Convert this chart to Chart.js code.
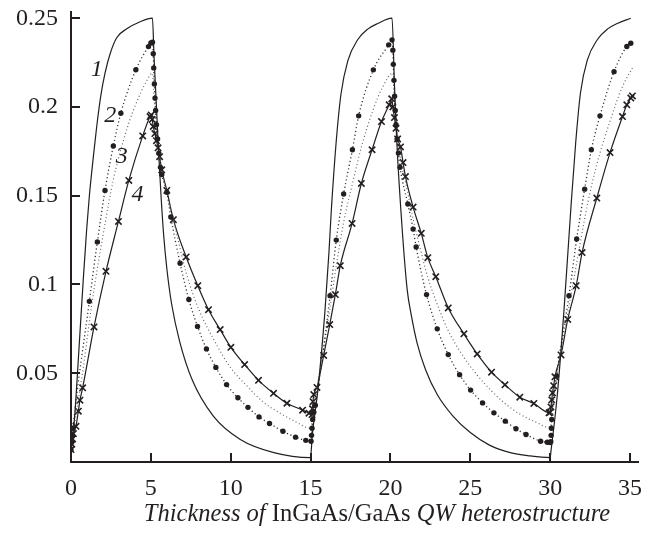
<!DOCTYPE html>
<html><head><meta charset="utf-8">
<style>html,body{margin:0;padding:0;background:#fff}#wrap{width:651px;height:533px;position:relative}</style>
<script src="https://cdn.jsdelivr.net/npm/chart.js@4.4.1/dist/chart.umd.min.js"></script>
</head><body><div id="wrap"><canvas id="c" width="651" height="533"></canvas></div>
<script>
const xTicks = [0,5,10,15,20,25,30,35];
const yTicks = [0.05,0.1,0.15,0.2,0.25];

// Curve 1 (solid)
const c1x = [0,0.1,0.25,0.46,0.77,0.98,1.15,1.4,1.61,1.86,2.13,2.45,2.86,3.49,4.33,5.1,5.2,5.35,5.5,5.65,5.8,6.0,6.3,6.8,7.6,8.9,10.6,12.7,15.0,15.1,15.45,15.9,16.15,16.3,16.6,16.9,17.33,17.96,18.6,19.2,20.1,20.25,20.4,20.73,21.05,21.3,21.67,22.2,22.93,23.9,25.0,26.2,27.5,28.7,30.0,30.05,30.45,30.87,31.29,31.6,31.9,32.33,32.96,33.6,34.2,35.05];
const c1y = [0.007,0.013,0.028,0.058,0.103,0.131,0.15,0.172,0.189,0.206,0.219,0.23,0.239,0.244,0.248,0.25,0.228,0.2,0.172,0.148,0.128,0.109,0.089,0.068,0.046,0.026,0.0127,0.0053,0.0025,0.0145,0.04,0.085,0.118,0.142,0.18,0.207,0.226,0.238,0.244,0.247,0.25,0.213,0.18,0.132,0.097,0.083,0.067,0.052,0.038,0.026,0.0166,0.0095,0.0053,0.0035,0.0025,0.006,0.038,0.086,0.142,0.18,0.208,0.2265,0.238,0.244,0.247,0.25];

// Curve 2 (dotted, dot markers)
const c2x = [0,0.04,0.08,0.12,1.15,1.65,2.13,2.65,3.12,4.06,4.85,5.0,5.1,5.15,5.18,5.22,5.26,5.3,5.35,5.42,5.5,5.6,5.68,6.0,6.25,6.83,7.38,7.92,8.48,9.07,9.74,10.45,11.08,11.77,12.43,13.27,14.06,14.7,15.03,15.06,15.09,15.13,15.2,15.3,16.22,16.61,17.07,17.62,18.01,18.93,19.89,20.1,20.15,20.18,20.22,20.26,20.3,20.35,20.42,20.5,20.6,21.09,21.42,21.61,22.26,22.93,23.62,24.33,25.02,25.77,26.48,27.19,27.86,28.49,29.4,29.82,30.0,30.04,30.06,30.08,30.1,30.4,31.18,31.66,32.16,32.58,33.12,34.0,34.8,35.05];
const c2y = [0.007,0.011,0.015,0.019,0.0905,0.124,0.153,0.178,0.1965,0.221,0.234,0.236,0.2365,0.23,0.222,0.213,0.205,0.198,0.19,0.182,0.174,0.166,0.162,0.152,0.138,0.112,0.0915,0.0764,0.0637,0.0533,0.0436,0.0362,0.0308,0.0254,0.0217,0.0173,0.014,0.0122,0.0117,0.015,0.019,0.024,0.028,0.032,0.0937,0.125,0.151,0.1759,0.195,0.2209,0.235,0.2378,0.232,0.224,0.215,0.206,0.198,0.19,0.182,0.174,0.166,0.1453,0.1312,0.1211,0.0943,0.075,0.0605,0.0492,0.0405,0.0333,0.0277,0.023,0.0187,0.0155,0.0117,0.0111,0.011,0.0115,0.015,0.019,0.024,0.0484,0.0937,0.1256,0.1537,0.1759,0.195,0.2199,0.2341,0.2359];

// Curve 3 (dotted, no markers)
const c3x = [0,0.3,0.72,1.32,2.03,2.65,3.28,3.9,4.74,5.1,5.2,5.35,5.5,5.68,6.0,6.4,7.2,8.0,9.0,10.0,11.0,12.0,13.0,14.0,15.03,15.08,15.15,15.4,15.8,16.2,16.6,17.07,17.6,18.2,18.9,19.5,20.15,20.25,20.4,20.6,20.94,21.42,21.93,22.34,22.84,23.62,24.6,25.43,26.33,27.17,28.1,28.98,29.97,30.05,30.15,30.4,30.8,31.2,31.66,32.16,32.6,33.12,33.75,34.5,35.15];
const c3y = [0.007,0.026,0.05,0.09,0.129,0.159,0.181,0.198,0.2147,0.219,0.205,0.19,0.175,0.1645,0.152,0.137,0.107,0.086,0.068,0.053,0.043,0.034,0.028,0.023,0.019,0.021,0.03,0.042,0.063,0.086,0.11,0.135,0.156,0.178,0.198,0.211,0.219,0.205,0.19,0.172,0.158,0.137,0.118,0.104,0.091,0.074,0.059,0.049,0.04,0.033,0.027,0.023,0.0195,0.021,0.03,0.048,0.069,0.089,0.112,0.137,0.156,0.174,0.192,0.211,0.222];

// Curve 4 (solid, x markers)
const c4x = [0,0.05,0.1,0.15,0.31,0.46,0.56,0.73,1.44,2.19,2.97,3.62,4.49,4.95,5.02,5.08,5.15,5.25,5.35,5.45,5.55,5.68,6.0,6.41,7.21,7.94,8.61,9.34,10.01,10.87,11.74,12.68,13.52,14.5,14.9,15.09,15.12,15.15,15.2,15.4,15.82,16.2,16.55,16.86,17.6,18.18,18.85,19.44,19.92,20.08,20.15,20.25,20.35,20.45,20.63,20.79,20.94,21.42,21.93,22.34,22.84,23.62,24.6,25.43,26.33,27.17,28.1,28.98,29.93,30.0,30.05,30.1,30.15,30.22,30.3,30.68,31.1,31.63,32.0,32.92,33.75,34.53,34.8,35.05,35.15];
const c4y = [0.007,0.01,0.013,0.016,0.0201,0.0286,0.0348,0.0418,0.0761,0.1074,0.1355,0.1586,0.1837,0.1946,0.1955,0.193,0.189,0.185,0.181,0.177,0.172,0.1646,0.153,0.1365,0.1155,0.0993,0.0858,0.0746,0.0646,0.0549,0.046,0.0387,0.0331,0.0292,0.0275,0.0267,0.03,0.034,0.038,0.042,0.06,0.0774,0.0943,0.1106,0.1344,0.1569,0.1759,0.1918,0.2012,0.2046,0.2,0.194,0.188,0.182,0.1775,0.1687,0.1608,0.1436,0.1288,0.1151,0.1044,0.0868,0.0722,0.0609,0.0506,0.0435,0.0365,0.033,0.0277,0.028,0.031,0.035,0.039,0.043,0.048,0.0603,0.0803,0.0993,0.118,0.1487,0.1743,0.1946,0.2012,0.205,0.2062];

const curveLabels = ['1','2','3','4'];
const curveLabelX = [1.61,2.45,3.18,4.16];
const curveLabelY = [0.221,0.195,0.172,0.1505];

const FONT = '"Liberation Serif","Times New Roman",Times,serif';
const INK = '#231f20';
const toPts = (xs, ys) => xs.map((x,i) => ({x, y: ys[i]}));
const fmt = v => String(parseFloat(v.toFixed(3)));

const decor = {
  id: 'decor',
  afterDraw(chart) {
    const {ctx, chartArea: a, scales: {x, y}} = chart;
    ctx.save();
    ctx.strokeStyle = INK; ctx.lineWidth = 2;
    xTicks.forEach(v => { const px = Math.round(x.getPixelForValue(v)); ctx.beginPath(); ctx.moveTo(px, a.bottom); ctx.lineTo(px, a.bottom - 9); ctx.stroke(); });
    yTicks.forEach(v => { const py = Math.round(y.getPixelForValue(v)); ctx.beginPath(); ctx.moveTo(a.left, py); ctx.lineTo(a.left + 9, py); ctx.stroke(); });
    ctx.fillStyle = INK;
    ctx.font = 'italic 24px ' + FONT;
    ctx.textAlign = 'center'; ctx.textBaseline = 'middle';
    curveLabels.forEach((t, i) => ctx.fillText(t, x.getPixelForValue(curveLabelX[i]), y.getPixelForValue(curveLabelY[i])));
    // axis title with mixed styles
    const parts = [['Thickness of ', 'italic 24.5px '], ['InGaAs/GaAs ', '24.5px '], ['QW heterostructure', 'italic 24.5px ']];
    let total = 0;
    parts.forEach(p => { ctx.font = p[1] + FONT; total += ctx.measureText(p[0]).width; });
    let cx = 377 - total / 2;
    ctx.textAlign = 'left';
    parts.forEach(p => { ctx.font = p[1] + FONT; ctx.fillText(p[0], cx, 515); cx += ctx.measureText(p[0]).width; });
    ctx.restore();
  }
};

new Chart(document.getElementById('c'), {
  type: 'line',
  data: {
    datasets: [
      {label: '1', data: toPts(c1x, c1y), borderColor: INK, borderWidth: 1.2, pointRadius: 0, cubicInterpolationMode: 'monotone'},
      {label: '2', data: toPts(c2x, c2y), borderColor: '#333', borderWidth: 1.3, borderDash: [1.2, 2.6], pointRadius: 2.7, pointStyle: 'circle', pointBackgroundColor: INK, pointBorderWidth: 0, cubicInterpolationMode: 'monotone'},
      {label: '3', data: toPts(c3x, c3y), borderColor: '#666', borderWidth: 1.2, borderDash: [1, 2.6], pointRadius: 0, cubicInterpolationMode: 'monotone'},
      {label: '4', data: toPts(c4x, c4y), borderColor: INK, borderWidth: 1.2, pointStyle: 'crossRot', pointRadius: 4.5, pointBorderWidth: 1.6, pointBorderColor: INK, cubicInterpolationMode: 'monotone'}
    ]
  },
  options: {
    responsive: false, animation: false, devicePixelRatio: 1, events: [],
    layout: {padding: {top: 12, right: 13, left: 0, bottom: 0}},
    plugins: {legend: {display: false}, tooltip: {enabled: false}},
    scales: {
      x: {
        type: 'linear', min: 0, max: 35.5,
        afterBuildTicks: s => { s.ticks = xTicks.map(v => ({value: v})); },
        afterFit: s => { s.height = 71; s.paddingLeft = 0; s.paddingRight = 0; },
        grid: {display: false, drawTicks: false},
        border: {display: true, color: INK, width: 2},
        ticks: {color: INK, font: {family: FONT, size: 24}, padding: 12, maxRotation: 0, callback: v => fmt(v)}
      },
      y: {
        type: 'linear', min: 0, max: 0.2535,
        afterBuildTicks: s => { s.ticks = yTicks.map(v => ({value: v})); },
        afterFit: s => { s.width = 71; s.paddingTop = 0; s.paddingBottom = 0; },
        grid: {display: false, drawTicks: false},
        border: {display: true, color: INK, width: 2},
        ticks: {color: INK, font: {family: FONT, size: 24}, padding: 13, callback: v => fmt(v)}
      }
    }
  },
  plugins: [decor]
});
</script></body></html>
